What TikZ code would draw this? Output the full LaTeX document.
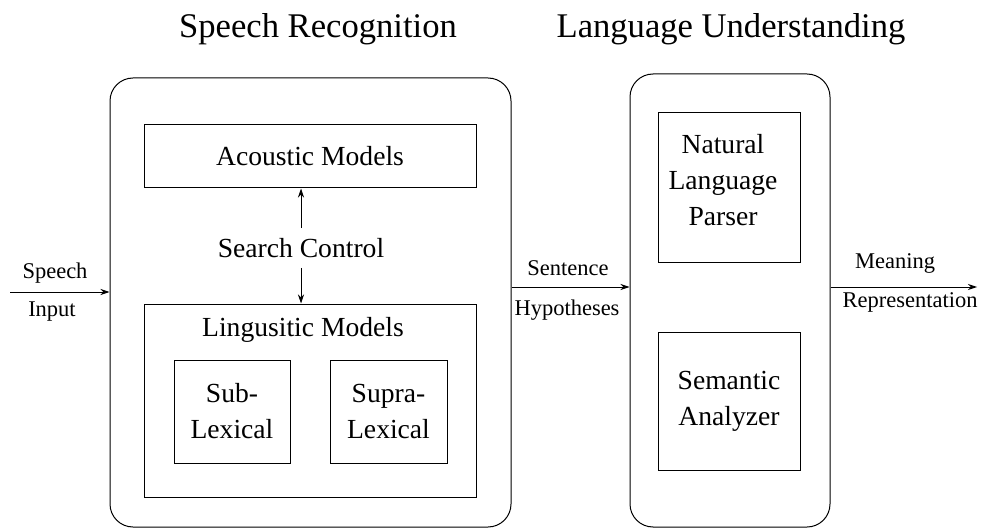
\documentclass[tikz,border=0pt]{standalone}
\usepackage{fontspec}
\setmainfont{Liberation Serif}
\usetikzlibrary{arrows.meta}
\begin{document}
\begin{tikzpicture}[x=1pt,y=-1pt,
  box/.style={draw,line width=1pt,inner sep=0pt},
  bigbox/.style={box,rounded corners=23pt},
  txt/.style={font=\fontsize{27.6}{36}\selectfont,align=center,inner sep=0pt},
  lbl/.style={font=\fontsize{22.5}{27}\selectfont,inner sep=0pt},
  ttl/.style={font=\fontsize{34.6}{40}\selectfont,inner sep=0pt,anchor=base},
  arr/.style={line width=1pt,-{Stealth[length=9pt,width=6pt]}}]
\useasboundingbox (0,0) rectangle (982,529);

\node[ttl] (t1) at (318,38) {Speech Recognition};
\node[ttl] (t2) at (731,38) {Language Understanding};

\node[bigbox,minimum width=401pt,minimum height=449pt] (sr) at (310.5,302.5) {};
\node[bigbox,minimum width=200pt,minimum height=453pt] (lu) at (730,300.5) {};

\node[box,txt,minimum width=332pt,minimum height=63pt] (am) at (310,156.5) {Acoustic Models};
\node[box,minimum width=332pt,minimum height=193pt] (lm) at (310,400.5) {};
\node[txt] (lmt) at (303,330) {Lingusitic Models};
\node[box,txt,minimum width=116pt,minimum height=103pt] (sub) at (232,411.5) {Sub-\\Lexical};
\node[box,txt,minimum width=117pt,minimum height=103pt] (sup) at (388.5,411.5) {Supra-\\Lexical};

\node[txt,inner ysep=10pt] (sc) at (301,248) {Search Control};
\draw[arr] (sc.north) -- (sc.north |- am.south);
\draw[arr] (sc.south) -- (sc.south |- lm.north);

\node[box,minimum width=142pt,minimum height=150pt] (nlp) at (729,188) {};
\node[txt] (nlpt) at (723,180) {Natural\\Language\\Parser};
\node[box,txt,minimum width=142pt,minimum height=138pt] (sem) at (729,401) {Semantic\\Analyzer};

% input
\coordinate (si) at (10,292);
\draw[arr] (si) -- (si -| sr.west);
\node[lbl] (sil1) at (55,273) {Speech};
\node[lbl] (sil2) at (52,312) {Input};

% sentence hypotheses
\coordinate (hy) at (570,287);
\draw[arr] (hy -| sr.east) -- (hy -| lu.west);
\node[lbl] (hyl1) at (568,268) {Sentence};
\node[lbl] (hyl2) at (567,310) {Hypotheses};

% meaning
\coordinate (mr) at (977,287);
\draw[arr] (mr -| lu.east) -- (mr);
\node[lbl] (mrl1) at (895,263) {Meaning};
\node[lbl] (mrl2) at (910,302) {Representation};
\end{tikzpicture}
\end{document}
